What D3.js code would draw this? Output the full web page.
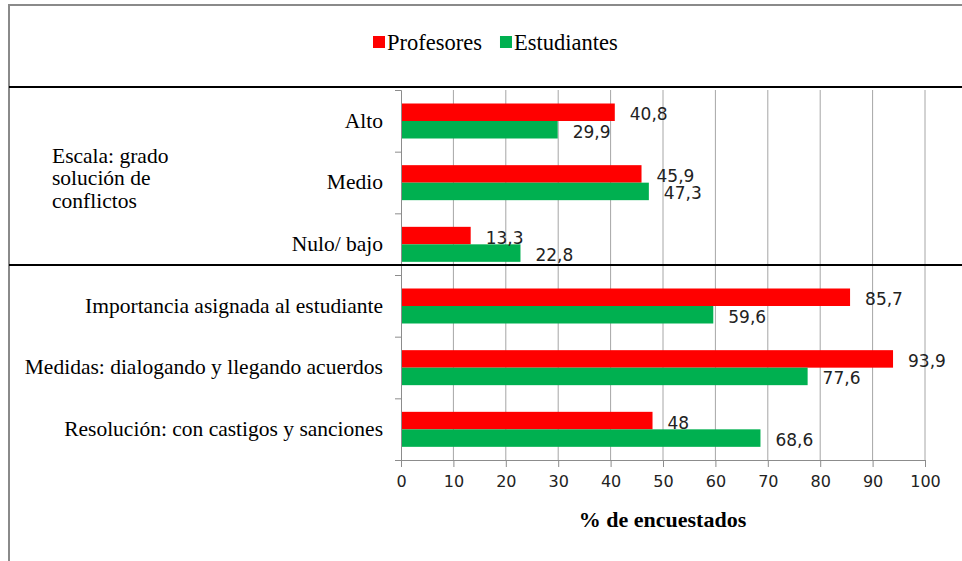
<!DOCTYPE html>
<html>
<head>
<meta charset="utf-8">
<script src="https://cdn.jsdelivr.net/npm/d3@7"></script>
<style>
  body { margin: 0; background: #fff; }
  svg { display: block; }
  .serif { font-family: "Liberation Serif", "DejaVu Serif", serif; fill: #000; }
  .cat text { font-family: "Liberation Serif", serif; font-size: 21.5px; fill: #000; }
  .xaxis text { font-family: "DejaVu Sans", sans-serif; font-size: 16px; fill: #222; }
  .val { font-family: "DejaVu Sans", sans-serif; font-size: 17px; fill: #222; }
</style>
</head>
<body>
<div id="chart"></div>
<script>
const categories = [
  "Alto",
  "Medio",
  "Nulo/ bajo ",
  "Importancia asignada al estudiante",
  "Medidas: dialogando y llegando acuerdos",
  "Resolución: con castigos y sanciones"
];
const series = ["Profesores", "Estudiantes"];
const profesores = [40.8, 45.9, 13.3, 85.7, 93.9, 48];
const estudiantes = [29.9, 47.3, 22.8, 59.6, 77.6, 68.6];
const xTicks = [0, 10, 20, 30, 40, 50, 60, 70, 80, 90, 100];
const groupLabel = ["Escala: grado", "solución de", "conflictos"];

const color = { "Profesores": "#ff0000", "Estudiantes": "#00b050" };

const W = 962, H = 561;
const plot = { left: 401, right: 925, top: 90, bottom: 460 };

const svg = d3.select("#chart").append("svg")
  .attr("width", W)
  .attr("height", H);

const x = d3.scaleLinear().domain([0, 100]).range([plot.left, plot.right]);
const y0 = d3.scaleBand().domain(categories).range([plot.top, plot.bottom]).padding(0);
const y1 = d3.scaleBand().domain(series).range([13.5, 48.5]).padding(0);

const rows = categories.map((c, i) => ({
  cat: c,
  vals: [
    { s: "Profesores", v: profesores[i] },
    { s: "Estudiantes", v: estudiantes[i] }
  ]
}));

// marco
svg.append("path")
  .attr("d", `M9,${H} V5 H${W}`)
  .attr("fill", "none")
  .attr("stroke", "#8a8a8a")
  .attr("stroke-width", 2);

// rejilla
svg.append("g")
  .selectAll("line")
  .data(xTicks.slice(1))
  .join("line")
  .attr("x1", d => x(d)).attr("x2", d => x(d))
  .attr("y1", plot.top).attr("y2", plot.bottom)
  .attr("stroke", "#a6a6a6")
  .attr("stroke-width", 1);

// barras
const grp = svg.append("g")
  .selectAll("g")
  .data(rows)
  .join("g")
  .attr("transform", d => `translate(0,${y0(d.cat)})`);

grp.selectAll("rect")
  .data(d => d.vals)
  .join("rect")
  .attr("x", x(0))
  .attr("y", d => y1(d.s))
  .attr("width", d => x(d.v) - x(0))
  .attr("height", y1.bandwidth())
  .attr("fill", d => color[d.s]);

grp.selectAll("text")
  .data(d => d.vals)
  .join("text")
  .attr("class", "val")
  .attr("x", d => x(d.v) + 15)
  .attr("y", d => y1(d.s) + y1.bandwidth() / 2 + 2)
  .attr("dy", "0.35em")
  .text(d => String(d.v).replace(".", ","));

// eje x
svg.append("g")
  .attr("class", "xaxis")
  .attr("transform", `translate(0,${plot.bottom})`)
  .call(d3.axisBottom(x).tickValues(xTicks).tickSize(7).tickPadding(9).tickSizeOuter(0))
  .call(g => g.select(".domain").attr("stroke", "#8c8c8c").attr("d", `M${plot.left - 6},0.5H${plot.right}`))
  .call(g => g.selectAll(".tick line").attr("stroke", "#8c8c8c"));

// eje y: linea + marcas entre categorias
const yb = d3.scaleLinear().domain([0, categories.length]).range([plot.top, plot.bottom]);
svg.append("g")
  .attr("transform", `translate(${plot.left},0)`)
  .call(d3.axisLeft(yb).ticks(categories.length).tickSize(6).tickFormat(""))
  .call(g => g.select(".domain").attr("stroke", "#8c8c8c"))
  .call(g => g.selectAll(".tick line").attr("stroke", "#8c8c8c"));

// etiquetas de categoria
svg.append("g")
  .attr("class", "cat")
  .attr("transform", `translate(${plot.left - 18},0)`)
  .call(d3.axisLeft(y0).tickSize(0).tickPadding(0))
  .call(g => g.select(".domain").remove())
  .selectAll("text").attr("dy", "0.32em");

// etiqueta de grupo
svg.append("text")
  .attr("class", "serif")
  .attr("x", 52)
  .attr("y", 155)
  .style("font-size", "21.5px")
  .selectAll("tspan")
  .data(groupLabel)
  .join("tspan")
  .attr("x", 52)
  .attr("dy", (d, i) => i === 0 ? "0.35em" : "1.05em")
  .text(d => d);

// separadores
svg.append("g")
  .selectAll("line")
  .data([87, 265])
  .join("line")
  .attr("x1", 9).attr("x2", W)
  .attr("y1", d => d).attr("y2", d => d)
  .attr("stroke", "#000")
  .attr("stroke-width", 2);

// titulo eje
svg.append("text")
  .attr("class", "serif")
  .attr("x", (580 + 745) / 2)
  .attr("y", 527)
  .attr("text-anchor", "middle")
  .style("font-weight", "bold")
  .style("font-size", "22px")
  .text("% de encuestados");

// leyenda
const lg = svg.append("g").attr("transform", "translate(373,42)");
let lx = 0;
series.forEach(s => {
  lg.append("rect").attr("x", lx).attr("y", -6).attr("width", 12).attr("height", 12).attr("fill", color[s]);
  const t = lg.append("text")
    .attr("class", "serif")
    .attr("x", lx + 14)
    .attr("dy", "0.35em")
    .style("font-size", "22.5px")
    .text(s);
  lx += 14 + t.node().getComputedTextLength() + 18;
});
</script>
</body>
</html>
